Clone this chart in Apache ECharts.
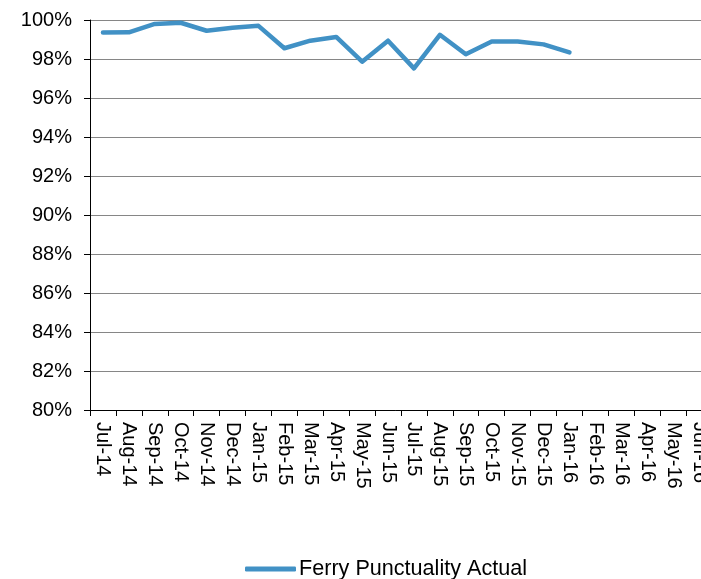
<!DOCTYPE html>
<html>
<head>
<meta charset="utf-8">
<script src="https://cdn.jsdelivr.net/npm/echarts@6/dist/echarts.min.js"></script>
<style>
  html, body { margin: 0; padding: 0; background: #fff; }
  #chart { width: 701px; height: 579px; }
</style>
</head>
<body>
<div id="chart"></div>
<script>
const months = ['Jul-14', 'Aug-14', 'Sep-14', 'Oct-14', 'Nov-14', 'Dec-14', 'Jan-15', 'Feb-15',
  'Mar-15', 'Apr-15', 'May-15', 'Jun-15', 'Jul-15', 'Aug-15', 'Sep-15', 'Oct-15', 'Nov-15',
  'Dec-15', 'Jan-16', 'Feb-16', 'Mar-16', 'Apr-16', 'May-16', 'Jun-16']

const punctualityActual = [99.36, 99.37, 99.8, 99.86, 99.45, 99.6, 99.7, 98.55, 98.94, 99.13,
  97.86, 98.94, 97.52, 99.24, 98.24, 98.9, 98.9, 98.75, 98.34, null, null, null, null, null]

const yMin = 80
const yMax = 100
const yStep = 2

const font = 'Arial, "Liberation Sans", sans-serif'

const myChart = echarts.init(document.getElementById('chart'))

const option = {
  animation: false,
  textStyle: { fontFamily: font },
  legend: {
    data: [{ name: 'Ferry Punctuality Actual', icon: 'roundRect' }],
    top: 558,
    left: 245,
    padding: 0,
    itemWidth: 51,
    itemHeight: 5,
    itemGap: 4,
    itemStyle: { color: '#4191c5' },
    textStyle: { color: '#000', fontSize: 21.6, fontFamily: font, padding: [0, 0, 0, -2] }
  },
  grid: {
    left: 90,
    top: 20,
    right: -11,
    bottom: 169,
    outerBoundsMode: 'none'
  },
  xAxis: {
    type: 'category',
    data: months,
    boundaryGap: true,
    axisLine: { lineStyle: { color: '#000', width: 1 } },
    axisTick: { show: true, length: 6, lineStyle: { color: '#000' } },
    axisLabel: {
      rotate: -90,
      interval: 0,
      margin: 12,
      color: '#000',
      fontSize: 20,
      fontFamily: font
    },
    splitLine: { show: false }
  },
  yAxis: {
    type: 'value',
    min: yMin,
    max: yMax,
    interval: yStep,
    axisLine: { show: true, lineStyle: { color: '#000', width: 1 } },
    axisTick: { show: true, length: 6, lineStyle: { color: '#000' } },
    axisLabel: {
      margin: 18,
      color: '#000',
      fontSize: 20,
      fontFamily: font,
      formatter: (value) => value + '%'
    },
    splitLine: { show: true, lineStyle: { color: '#868686', width: 1 } }
  },
  series: [
    {
      name: 'Ferry Punctuality Actual',
      type: 'line',
      data: punctualityActual,
      symbol: 'none',
      connectNulls: false,
      lineStyle: { color: '#4191c5', width: 4.5, cap: 'round', join: 'round' },
      itemStyle: { color: '#4191c5' }
    }
  ]
}

myChart.setOption(option)
</script>
</body>
</html>
